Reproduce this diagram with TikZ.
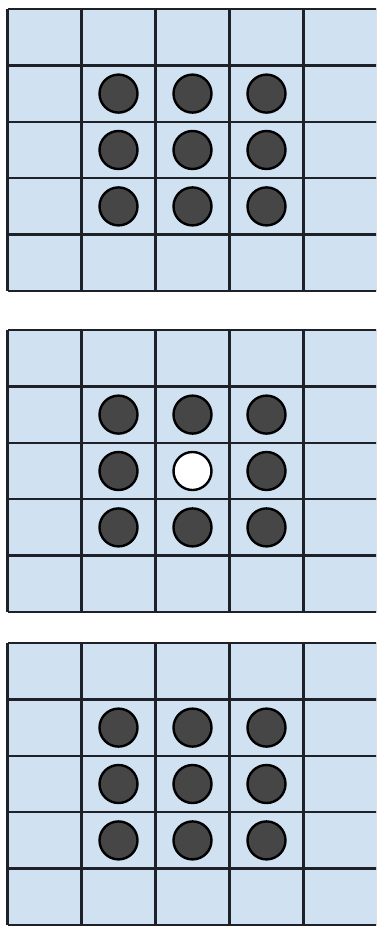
\documentclass[tikz,border=0pt]{standalone}
\definecolor{cellblue}{HTML}{D0E2F2}
\definecolor{dotgray}{HTML}{464646}
\definecolor{gridline}{HTML}{1E2128}

\begin{document}
\begin{tikzpicture}[x=1pt,y=-1pt,dot/.style={circle,draw=black,line width=2.4pt,minimum size=38pt,inner sep=0pt}]
\useasboundingbox (0,0) rectangle (376,927);\clip (0,0) rectangle (376,927);
\fill[white] (0,0) rectangle (376,927);
\foreach \t/\mid [count=\g] in {9/dotgray,330/white,643/dotgray}{
\fill[cellblue] (7.5,\t) rectangle (377.5,\t+282);
\foreach \i in {0,...,5}{\draw[gridline,line width=2.4pt] (7.5+74*\i,\t) -- (7.5+74*\i,\t+282);\draw[gridline,line width=2.4pt] (7.5,\t+56.4*\i) -- (377.5,\t+56.4*\i);}
\foreach \r in {1,2,3}{\foreach \c in {1,2,3}{\edef\f{dotgray}\ifnum\r\c=22 \edef\f{\mid}\fi
\node[dot,fill=\f] (d\g\r\c) at (44.5+74*\c,\t+28.2+56.4*\r){};}}
}
\end{tikzpicture}
\end{document}
